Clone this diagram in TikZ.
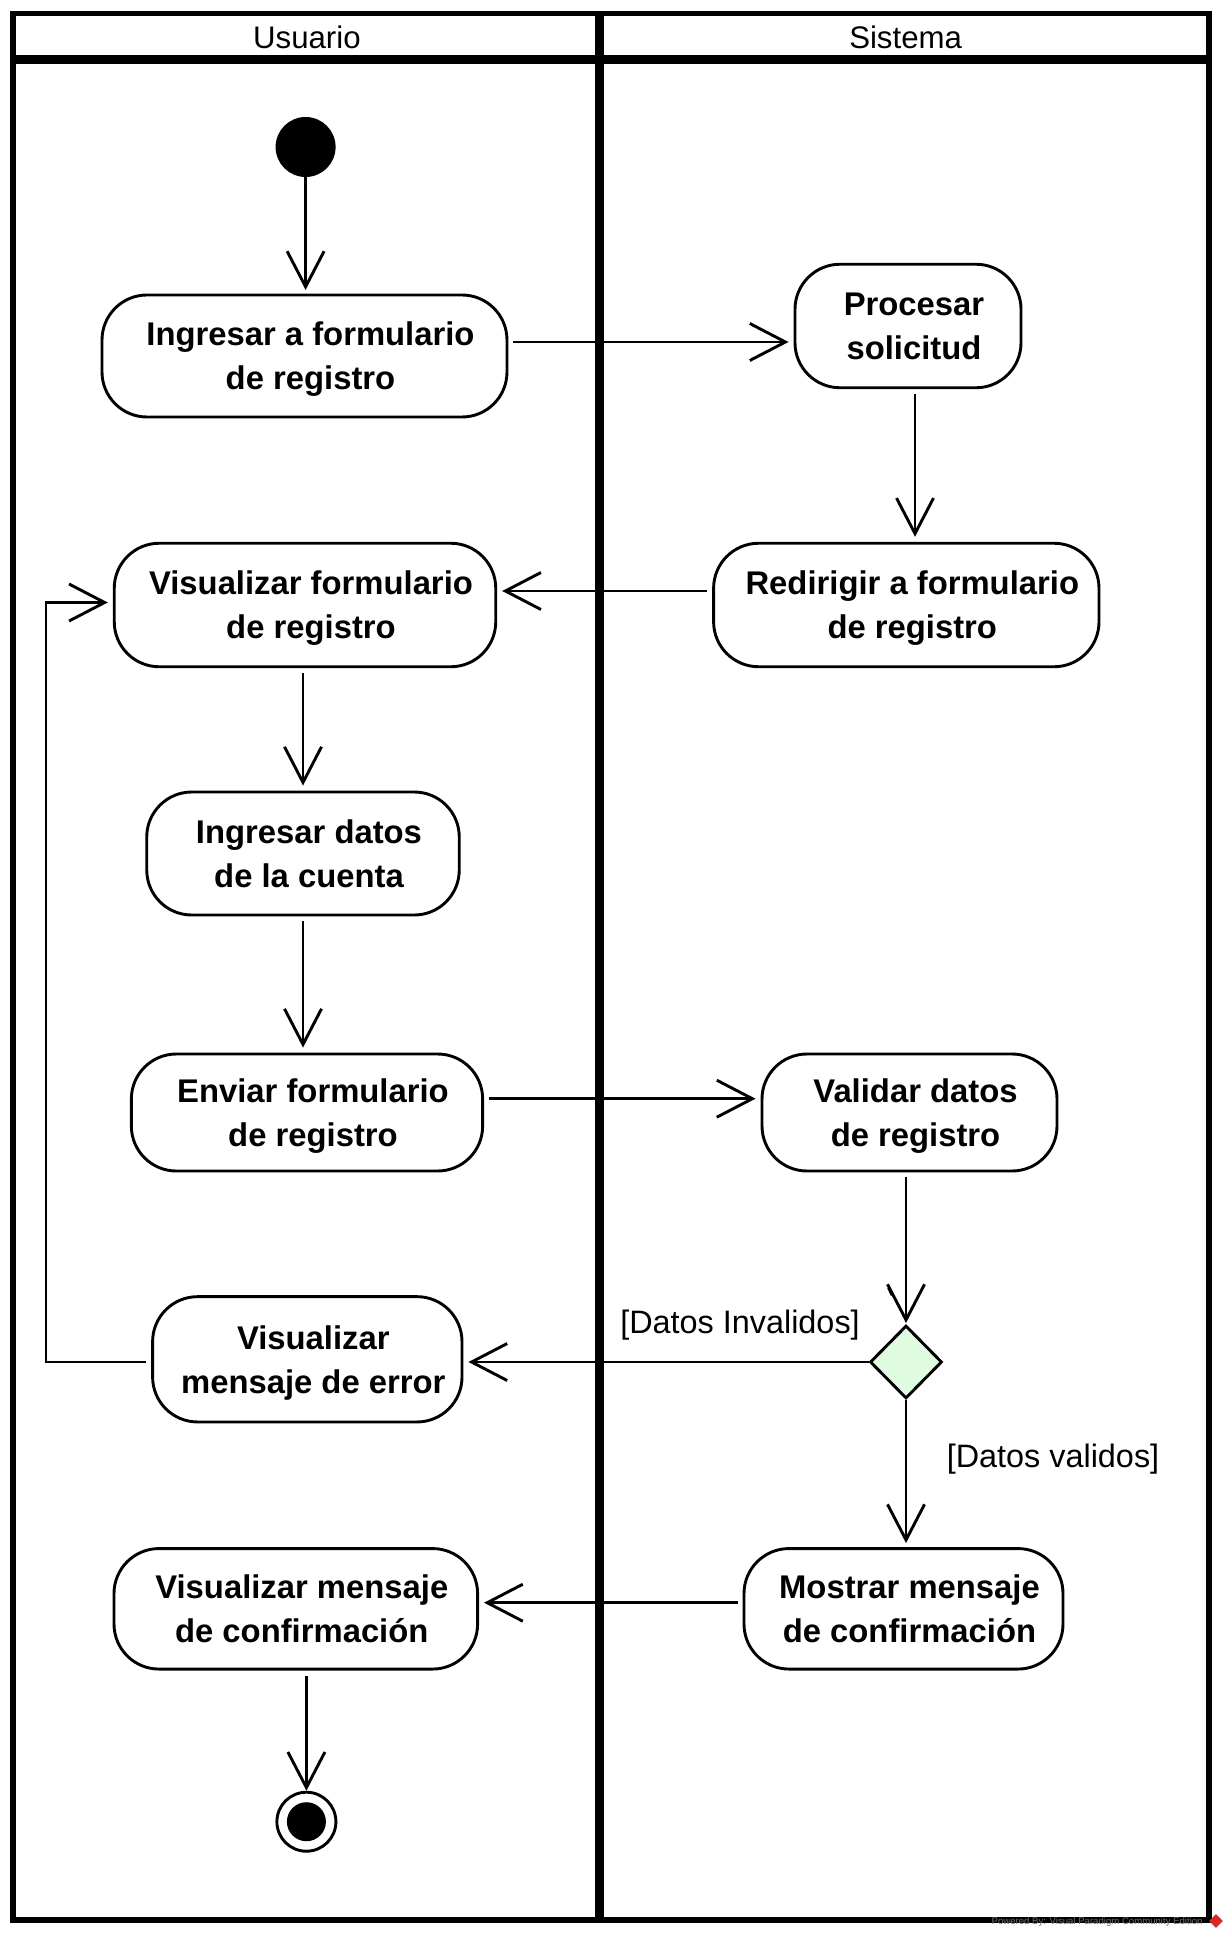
\documentclass[tikz,border=0pt]{standalone}
\usepackage{fontspec}
\setmainfont{Liberation Sans}
\usetikzlibrary{arrows.meta,shapes.geometric,calc}
\definecolor{decfill}{RGB}{224,252,224}
\definecolor{wmgray}{RGB}{110,110,110}
\definecolor{vpred}{RGB}{215,40,40}
\newcommand{\actline}[1]{\hspace*{6pt}#1}
\begin{document}
\begin{tikzpicture}[x=0.5pt,y=-0.5pt,
  act/.style={draw=black, line width=1.45pt, rounded corners=22.5pt, fill=white,
    align=center, inner sep=0pt, text depth=0pt, font=\bfseries\fontsize{16.4}{22}\selectfont},
  flow/.style={line width=1.45pt, -{Straight Barb[length=17.8pt,width=18.5pt]},
    shorten <=2.5pt, shorten >=2.5pt},
  lanehead/.style={inner sep=0pt, font=\fontsize{15.6}{18}\selectfont},
  guard/.style={inner sep=0pt, font=\fontsize{16.2}{18}\selectfont},
  frameline/.style={line width=2.75pt},
  innerline/.style={line width=4.5pt}
]
\useasboundingbox (0,0) rectangle (1230,1941);

% swimlane frame
\draw[frameline] (12.9,13.4) rectangle (1209,1920);
\draw[innerline] (599,13.4) -- (599,1920);
\draw[innerline] (12.9,59.3) -- (1209,59.3);
\node[lanehead] (hU) at (306.9,37) {Usuario};
\node[lanehead] (hS) at (905.6,37) {Sistema};

% nodes
\node[circle, fill=black, minimum size=30pt, inner sep=0pt] (I) at (305.6,147) {};
\node[act, minimum width=202.5pt, minimum height=61pt] (A1) at (304.5,356) {\actline{Ingresar a formulario}\\\actline{de registro}};
\node[act, minimum width=113pt, minimum height=61.75pt] (S1) at (908,326) {\actline{Procesar}\\\actline{solicitud}};
\node[act, minimum width=190.75pt, minimum height=61.75pt] (A2) at (305,605) {\actline{Visualizar formulario}\\\actline{de registro}};
\node[act, minimum width=192.7pt, minimum height=61.75pt] (S2) at (906.3,605) {\actline{Redirigir a formulario}\\\actline{de registro}};
\node[act, minimum width=156.25pt, minimum height=61.5pt] (A3) at (303,853.5) {\actline{Ingresar datos}\\\actline{de la cuenta}};
\node[act, minimum width=175.65pt, minimum height=58.5pt] (A4) at (307,1112.5) {\actline{Enviar formulario}\\\actline{de registro}};
\node[act, minimum width=147.5pt, minimum height=58.5pt] (S3) at (909.5,1112.5) {\actline{Validar datos}\\\actline{de registro}};
\node[act, minimum width=154.7pt, minimum height=62.65pt] (A5) at (307.3,1359.3) {\actline{Visualizar}\\\actline{mensaje de error}};
\node[diamond, draw=black, line width=1.45pt, fill=decfill, minimum width=36pt, minimum height=36.5pt, inner sep=0pt] (D) at (906,1362) {};
\node[act, minimum width=159.5pt, minimum height=60.25pt] (S4) at (903.5,1608.8) {\actline{Mostrar mensaje}\\\actline{de confirmación}};
\node[act, minimum width=181.8pt, minimum height=60.25pt] (A6) at (295.8,1608.8) {\actline{Visualizar mensaje}\\\actline{de confirmación}};
\node[circle, draw=black, line width=1.45pt, fill=white, minimum size=29.5pt, inner sep=0pt] (F) at (306.4,1821.7) {};
\fill[black] (F.center) circle[radius=9.75pt];

% guard labels
\node[guard] (gI) at (740,1325) {[Datos Invalidos]};
\node[guard] (gV) at (1053,1459.5) {[Datos validos]};

% helper coordinates
\coordinate (c1) at (0,342);
\coordinate (c2) at (915,0);
\coordinate (c3) at (0,591);
\coordinate (c4) at (303,0);
\coordinate (c5) at (0,1098.7);
\coordinate (c7) at (0,1602.7);
\coordinate (L) at (46,602.5);

% connectors
\draw[flow, shorten <=0pt, shorten >=1.8pt] (I.south) -- (I.south |- A1.north);
\draw[flow] (A1.east |- c1) -- (S1.west |- c1);
\draw[flow] (S1.south -| c2) -- (S2.north -| c2);
\draw[flow] (S2.west |- c3) -- (A2.east |- c3);
\draw[flow] (A2.south -| c4) -- (A3.north -| c4);
\draw[flow] (A3.south -| c4) -- (A4.north -| c4);
\draw[flow] (A4.east |- c5) -- (S3.west |- c5);
\draw[flow, shorten >=0.5pt] (S3.south -| D) -- (D.north);
\draw[flow, shorten <=0pt] (D.west) -- (A5.east |- D);
\draw[flow, shorten <=0pt, shorten >=2pt] (D.south) -- (S4.north -| D);
\draw[flow] (S4.west |- c7) -- (A6.east |- c7);
\draw[flow, shorten >=0pt] (A6.south -| F) -- (F.north);
\draw[flow, shorten <=2.8pt] (A5.west |- D) -| (L) -- (A2.west |- L);

% small stray mark near the decision
\draw[line width=0.8pt] (888,1288) -- (891.5,1295.5);

% watermark
\node[anchor=east, text=wmgray, inner sep=0pt, font=\fontsize{4.8}{5}\selectfont] (wm) at (1203,1922) {Powered By: Visual Paradigm Community Edition};
\node[diamond, fill=vpred, minimum size=7pt, inner sep=0pt] (logo) at (1216,1921) {};
\end{tikzpicture}
\end{document}
